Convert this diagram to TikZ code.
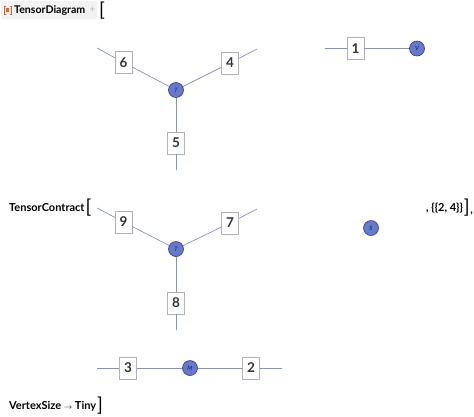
\documentclass[tikz,border=0pt]{standalone}
\usepackage{fontspec}
\setmainfont{Lato}
\usetikzlibrary{positioning}

\definecolor{legblue}{RGB}{135,148,178}
\definecolor{boxgray}{RGB}{175,178,188}
\definecolor{vertblue}{RGB}{102,122,204}
\definecolor{vertedge}{RGB}{50,60,125}
\definecolor{vertlabel}{RGB}{20,30,90}
\definecolor{hdrgray}{RGB}{242,242,242}
\definecolor{iconorange}{RGB}{222,100,40}

\begin{document}
\begin{tikzpicture}[
    x=1pt, y=-1pt,
    idx/.style={
        rectangle,
        draw=boxgray,
        fill=white,
        line width=0.6pt,
        minimum width=17pt,
        minimum height=22pt,
        inner sep=0pt,
        font=\fontsize{13.5}{13.5}\selectfont\bfseries,
        text=black!80
    },
    vert/.style={circle, draw=vertedge, fill=vertblue, line width=0.6pt,
        minimum size=15pt, inner sep=0pt,
        font=\fontsize{6}{6}\selectfont\itshape, text=vertlabel},
    leg/.style={draw=legblue, line width=0.7pt},
    code/.style={font=\fontsize{11}{12}\selectfont\bfseries, inner sep=0pt, anchor=west},
    brk/.style={font=\fontsize{19}{19}\selectfont, inner sep=0pt, anchor=west}
]
    \useasboundingbox (0,0) rectangle (474,416);

    % --- HEADER ---
    \fill[hdrgray, rounded corners=2pt] (1,1) rectangle (97,19);
    \draw[iconorange, line width=0.8pt] (5.5,6) -- (4,6) -- (4,14) -- (5.5,14);
    \draw[iconorange, line width=0.8pt] (9.5,6) -- (11,6) -- (11,14) -- (9.5,14);
    \fill[iconorange] (6.3,8.3) rectangle (8.7,11.7);
    \node[code, font=\fontsize{10.6}{12}\selectfont\bfseries] (head) at (14,10.5) {TensorDiagram};
    \node[font=\fontsize{9}{9}\selectfont\bfseries, text=black!25, inner sep=0pt] (plus) at (92.5,10) {+};
    \node[brk] (lbrA) at (99,11) {[};

    % --- FIRST TENSOR T ---
    \node[vert] (T1) at (176,90) {T};
    \node[idx] (b6) at (123.5,62.5) {6};
    \node[idx] (b4) at (230,63) {4};
    \node[idx] (b5) at (176,143) {5};
    \coordinate (e6) at (97,48);
    \coordinate (e4) at (257,49);
    \coordinate (e5) at (176,170);

    % --- VECTOR V ---
    \node[vert] (V) at (417,48.5) {V};
    \node[idx] (b1) at (355.5,48.5) {1};
    \coordinate (e1) at (325,48.5);

    % --- TENSORCONTRACT LINE ---
    \node[code] (contract) at (9,208) {TensorContract};
    \node[brk, right=0.6pt of contract] (lbrB) {[};
    \node[code] (pairs) at (426,208) {, \{\{2, 4\}\}};
    \node[brk, right=0.6pt of pairs] (rbrB) {]};
    \node[code, right=0.3pt of rbrB.south east, anchor=south west, yshift=2pt] (comma) {,};

    % --- SECOND TENSOR T ---
    \node[vert] (T2) at (176,249) {T};
    \node[idx] (b9) at (123.5,222) {9};
    \node[idx] (b7) at (230,223) {7};
    \node[idx] (b8) at (176,303) {8};
    \coordinate (e9) at (97,208);
    \coordinate (e7) at (257,209);
    \coordinate (e8) at (176,330);

    % --- SCALAR S ---
    \node[vert] (S) at (371,228) {S};

    % --- MATRIX M ---
    \node[vert] (M) at (190,368) {M};
    \node[idx] (b3) at (128,368) {3};
    \node[idx] (b2) at (251,368) {2};
    \coordinate (e3) at (97,368);
    \coordinate (e2) at (282,368);

    % --- OPTION ---
    \node[code] (opt) at (9,406) {VertexSize {\fontsize{8}{8}\selectfont$\rightarrow$} Tiny};
    \node[brk, right=0.6pt of opt] (rbrC) {]};

    % --- LEGS ---
    \draw[leg] (e6) -- (b6) -- (T1);
    \draw[leg] (e4) -- (b4) -- (T1);
    \draw[leg] (e5) -- (b5) -- (T1);
    \draw[leg] (e1) -- (b1) -- (V);

    \draw[leg] (e9) -- (b9) -- (T2);
    \draw[leg] (e7) -- (b7) -- (T2);
    \draw[leg] (e8) -- (b8) -- (T2);

    \draw[leg] (e3) -- (b3) -- (M);
    \draw[leg] (M) -- (b2) -- (e2);

\end{tikzpicture}
\end{document}
